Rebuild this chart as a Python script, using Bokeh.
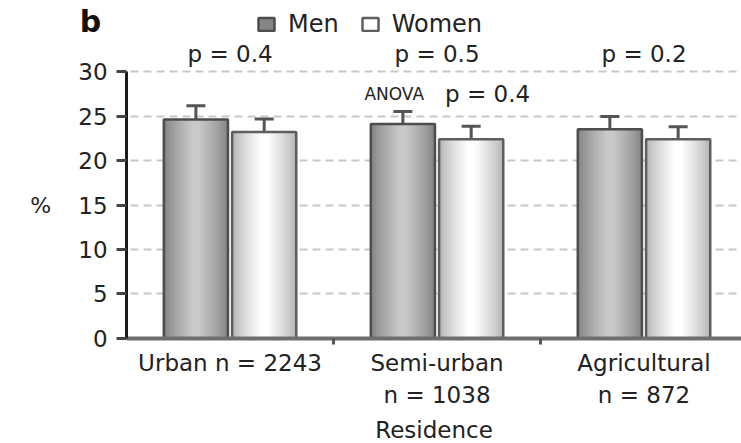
import numpy as np
from bokeh.plotting import figure
from bokeh.models import (ColumnDataSource, Range1d, FixedTicker, Whisker, TeeHead,
                          Legend, LegendItem, Label, BoxAnnotation)
from bokeh.core.properties import value
from bokeh.transform import dodge
from bokeh.embed import file_html
from bokeh.resources import INLINE

# ---- data ----
categories = ["Urban n = 2243", "Semi-urban\nn = 1038", "Agricultural\nn = 872"]
men = [24.6, 24.1, 23.5]
men_err = [1.55, 1.4, 1.45]
women = [23.2, 22.4, 22.4]
women_err = [1.47, 1.45, 1.4]
p_values = ["p = 0.4", "p = 0.5", "p = 0.2"]
anova_label = "ANOVA"
anova_p = "p = 0.4"
panel_letter = "b"
y_ticks = [0, 5, 10, 15, 20, 25, 30]

idx = np.arange(len(categories))
src = ColumnDataSource(dict(
    xc=idx + 0.5,
    men=men,
    women=women,
    men_hi=np.array(men) + np.array(men_err),
    men_lo=np.array(men) - np.array(men_err),
    women_hi=np.array(women) + np.array(women_err),
    women_lo=np.array(women) - np.array(women_err),
    pval=p_values,
))

FONT = "DejaVu Sans"
TXT = "#222222"

# the frame covers the whole canvas; both axes are drawn at fixed data locations
p = figure(width=741, height=443, output_backend="svg", toolbar_location=None,
           x_range=Range1d(-0.609, 2.971), y_range=Range1d(-11.80, 37.98),
           min_border=0)
p.outline_line_color = None
p.background_fill_color = "white"
p.border_fill_color = "white"

# grid
yt = FixedTicker(ticks=y_ticks)
p.xgrid.visible = False
p.ygrid.ticker = yt
p.ygrid.grid_line_color = "#c8c8c8"
p.ygrid.grid_line_width = 2
p.ygrid.grid_line_dash = "8 5"
# blank out the grid to the left of the value axis
p.add_layout(BoxAnnotation(left=-5, right=0, fill_color="white", fill_alpha=1,
                           line_color=None, level="glyph"))


def shade(edge, center, n):
    e = np.array([int(edge[i:i + 2], 16) for i in (1, 3, 5)], float)
    c = np.array([int(center[i:i + 2], 16) for i in (1, 3, 5)], float)
    out = []
    for k in range(n):
        t = (k / (n - 1)) ** 0.8
        rgb = e + (c - e) * t
        out.append((1.0 - 0.88 * k / (n - 1),
                    "#%02x%02x%02x" % tuple(int(round(v)) for v in rgb)))
    return out


# bars with cylinder-like shading
BW = 0.31
OFF = 0.165
men_shades = shade("#858585", "#c9c9c9", 12)
women_shades = shade("#b6b6b6", "#ffffff", 12)

men_r = []
for frac, col in men_shades:
    men_r.append(p.vbar(x=dodge("xc", -OFF), top="men", width=BW * frac, source=src,
                        fill_color=col, line_color=None))
men_out = p.vbar(x=dodge("xc", -OFF), top="men", width=BW, source=src,
                 fill_alpha=0, line_color="#4d4d4d", line_width=2.5)
women_r = []
for frac, col in women_shades:
    women_r.append(p.vbar(x=dodge("xc", OFF), top="women", width=BW * frac, source=src,
                          fill_color=col, line_color=None))
women_out = p.vbar(x=dodge("xc", OFF), top="women", width=BW, source=src,
                   fill_alpha=0, line_color="#5e5e5e", line_width=2.5)

# error bars
for base, hi, lo in [(dodge("xc", -OFF), "men_hi", "men_lo"),
                     (dodge("xc", OFF), "women_hi", "women_lo")]:
    w = Whisker(base=base, upper=hi, lower=lo, source=src,
                line_color="#555555", line_width=3,
                upper_head=TeeHead(size=19, line_color="#555555", line_width=3),
                lower_head=TeeHead(size=19, line_color="#555555", line_width=3))
    p.add_layout(w)

# p-values
p.text(x="xc", y=31.95, text="pval", source=src, text_align="center",
       text_baseline="alphabetic", text_font=value(FONT), text_font_size="23px",
       text_color=TXT)

p.add_layout(Label(x=1.5, y=27.5, x_offset=-13, text=anova_label, text_align="right",
                   text_baseline="alphabetic", text_font=FONT, text_font_size="17px",
                   text_color=TXT))
p.add_layout(Label(x=1.5, y=27.5, x_offset=8, text=anova_p, text_align="left",
                   text_baseline="alphabetic", text_font=FONT, text_font_size="23px",
                   text_color=TXT))
p.add_layout(Label(x=-0.174, y=35.6, text=panel_letter, text_align="center",
                   text_baseline="alphabetic", text_font=FONT, text_font_size="30px",
                   text_font_style="bold", text_color="#111111"))

# legend
legend = Legend(items=[LegendItem(label="Men", renderers=[men_r[0], men_out]),
                       LegendItem(label="Women", renderers=[women_r[-1], women_out])],
                location=(256, 405), orientation="horizontal",
                glyph_width=20, glyph_height=16, label_standoff=12, spacing=21,
                padding=0, margin=0, border_line_color=None, background_fill_alpha=0,
                label_text_font=FONT, label_text_font_size="24px", label_text_color=TXT)
p.add_layout(legend, "center")

# y axis (drawn at x = 0)
ya = p.yaxis[0]
ya.fixed_location = 0
ya.ticker = yt
ya.bounds = (0, 30)
ya.axis_line_color = "#1a1a1a"
ya.axis_line_width = 3
ya.major_tick_line_color = "#444444"
ya.major_tick_line_width = 3
ya.major_tick_out = 10
ya.major_tick_in = 0
ya.minor_tick_line_color = None
ya.major_label_standoff = 9
ya.major_label_text_font = FONT
ya.major_label_text_font_size = "23px"
ya.major_label_text_color = TXT
ya.axis_label = "%"
ya.axis_label_orientation = "horizontal"
ya.axis_label_standoff = 24
ya.axis_label_text_font = FONT
ya.axis_label_text_font_size = "22px"
ya.axis_label_text_font_style = "normal"
ya.axis_label_text_color = TXT

# x axis (drawn at y = 0)
xa = p.xaxis[0]
xa.fixed_location = 0
xa.bounds = (0, len(categories))
xa.ticker = FixedTicker(ticks=list(idx + 0.5), minor_ticks=list(np.arange(1, len(categories))))
xa.major_label_overrides = {float(i + 0.5): c for i, c in enumerate(categories)}
xa.axis_line_color = "#6e6e6e"
xa.axis_line_width = 4
xa.major_tick_line_color = None
xa.major_tick_out = 0
xa.major_tick_in = 0
xa.minor_tick_line_color = "#555555"
xa.minor_tick_line_width = 3
xa.minor_tick_out = 6
xa.minor_tick_in = 0
xa.major_label_standoff = 6
xa.major_label_text_font = FONT
xa.major_label_text_font_size = "23px"
xa.major_label_text_color = TXT
xa.axis_label = "Residence"
xa.axis_label_standoff = 6
xa.axis_label_text_font = FONT
xa.axis_label_text_font_size = "23px"
xa.axis_label_text_font_style = "normal"
xa.axis_label_text_color = TXT

open("out.html", "w").write(file_html(p, INLINE))
